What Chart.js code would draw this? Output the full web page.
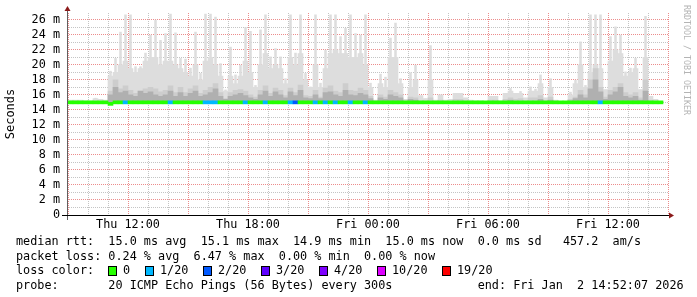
<!DOCTYPE html>
<html>
<head>
<meta charset="utf-8">
<script src="https://cdn.jsdelivr.net/npm/chart.js@4.4.1/dist/chart.umd.min.js"></script>
<style>
  html, body { margin: 0; padding: 0; background: #fff; }
  #wrap { position: relative; width: 697px; height: 297px; overflow: hidden;
          font-family: 'DejaVu Sans Mono', monospace; color: #000; }
  #chart { position: absolute; left: 0; top: 0; }
  .row, .lbl { position: absolute; font-size: 11.8px; line-height: 14px; white-space: pre; }
  .row { left: 16px; }
  .box { position: absolute; width: 7px; height: 8px; border: 1px solid #000; }
  #credit { position: absolute; left: 682px; top: 5px; writing-mode: vertical-rl;
            font-size: 8.3px; line-height: 9px; color: #b4b4b4; }
</style>
</head>
<body>
<div id="wrap">
  <canvas id="chart" width="697" height="297"></canvas>
  <div id="credit">RRDTOOL / TOBI OETIKER</div>
  <div class="row" style="top:234px">median rtt:  15.0 ms avg  15.1 ms max  14.9 ms min  15.0 ms now  0.0 ms sd   457.2  am/s</div>
  <div class="row" style="top:248.5px">packet loss: 0.24 % avg  6.47 % max  0.00 % min  0.00 % now</div>
  <div class="row" style="top:263px">loss color:</div>
  <div class="row" style="top:277.5px">probe:       20 ICMP Echo Pings (56 Bytes) every 300s            end: Fri Jan  2 14:52:07 2026</div>
</div>
<script>
// --- data: 15 minute bins, values in ms ---
const times = [
  'Thu 09:00','Thu 09:15','Thu 09:30','Thu 09:45','Thu 10:00','Thu 10:15','Thu 10:30','Thu 10:45',
  'Thu 11:00','Thu 11:15','Thu 11:30','Thu 11:45','Thu 12:00','Thu 12:15','Thu 12:30','Thu 12:45',
  'Thu 13:00','Thu 13:15','Thu 13:30','Thu 13:45','Thu 14:00','Thu 14:15','Thu 14:30','Thu 14:45',
  'Thu 15:00','Thu 15:15','Thu 15:30','Thu 15:45','Thu 16:00','Thu 16:15','Thu 16:30','Thu 16:45',
  'Thu 17:00','Thu 17:15','Thu 17:30','Thu 17:45','Thu 18:00','Thu 18:15','Thu 18:30','Thu 18:45',
  'Thu 19:00','Thu 19:15','Thu 19:30','Thu 19:45','Thu 20:00','Thu 20:15','Thu 20:30','Thu 20:45',
  'Thu 21:00','Thu 21:15','Thu 21:30','Thu 21:45','Thu 22:00','Thu 22:15','Thu 22:30','Thu 22:45',
  'Thu 23:00','Thu 23:15','Thu 23:30','Thu 23:45','Fri 00:00','Fri 00:15','Fri 00:30','Fri 00:45',
  'Fri 01:00','Fri 01:15','Fri 01:30','Fri 01:45','Fri 02:00','Fri 02:15','Fri 02:30','Fri 02:45',
  'Fri 03:00','Fri 03:15','Fri 03:30','Fri 03:45','Fri 04:00','Fri 04:15','Fri 04:30','Fri 04:45',
  'Fri 05:00','Fri 05:15','Fri 05:30','Fri 05:45','Fri 06:00','Fri 06:15','Fri 06:30','Fri 06:45',
  'Fri 07:00','Fri 07:15','Fri 07:30','Fri 07:45','Fri 08:00','Fri 08:15','Fri 08:30','Fri 08:45',
  'Fri 09:00','Fri 09:15','Fri 09:30','Fri 09:45','Fri 10:00','Fri 10:15','Fri 10:30','Fri 10:45',
  'Fri 11:00','Fri 11:15','Fri 11:30','Fri 11:45','Fri 12:00','Fri 12:15','Fri 12:30','Fri 12:45',
  'Fri 13:00','Fri 13:15','Fri 13:30','Fri 13:45','Fri 14:00','Fri 14:15','Fri 14:30'
];

// smoke: highest ping per bin (thin peaks), bulk of the slow pings (body),
// inner band (mid) and core band (dark)
const smokeMax = [
  15.3, 15.3, 15.3, 15.2, 15.2, 15.6, 15.4, 15.3, 19.2, 20.9,
  24.4, 26.7, 26.7, 19.8, 19.8, 21.6, 24.0, 26.0, 23.3, 24.2,
  26.8, 24.3, 20.9, 20.8, 19.6, 24.4, 18.9, 26.8, 26.8, 26.4,
  20.2, 16.7, 22.4, 18.7, 20.0, 25.0, 24.5, 17.3, 24.7, 26.7,
  21.1, 22.2, 21.1, 18.2, 26.7, 21.6, 26.7, 18.9, 17.1, 26.7,
  17.6, 22.0, 26.7, 26.7, 23.8, 24.9, 26.7, 24.2, 24.0, 26.7,
  17.6, 15.3, 18.8, 18.4, 23.6, 25.6, 18.2, 15.4, 19.0, 20.0,
  15.9, 15.5, 22.6, 15.3, 16.0, 15.3, 15.4, 16.2, 16.2, 15.6,
  15.3, 15.2, 15.2, 15.1, 15.8, 15.8, 15.2, 16.2, 16.9, 16.2,
  16.5, 15.6, 17.1, 16.8, 18.7, 15.6, 18.2, 15.3, 15.1, 15.1,
  16.4, 18.0, 23.1, 17.3, 26.7, 26.7, 26.7, 16.7, 23.8, 25.1,
  24.0, 19.1, 19.6, 20.9, 16.7, 26.5, 15.8, 15.4, 15.1
];
const smokeBody = [
  15.3, 15.3, 15.3, 15.2, 15.2, 15.5, 15.4, 15.3, 18.5, 19.0,
  20.0, 20.5, 19.5, 19.0, 19.5, 20.5, 21.0, 21.0, 20.0, 20.5,
  20.5, 20.0, 19.5, 19.0, 18.5, 20.0, 18.0, 20.5, 21.0, 20.0,
  18.5, 16.5, 18.5, 17.5, 18.5, 20.5, 19.0, 17.0, 20.0, 21.5,
  19.5, 20.0, 19.5, 17.5, 21.0, 20.0, 21.5, 18.0, 17.0, 20.0,
  17.0, 19.5, 21.5, 22.0, 21.5, 21.5, 21.0, 21.0, 21.5, 20.0,
  17.0, 15.3, 17.5, 17.0, 21.0, 21.0, 17.5, 15.4, 17.0, 18.0,
  15.9, 15.5, 18.0, 15.3, 16.0, 15.3, 15.4, 16.2, 16.2, 15.6,
  15.3, 15.2, 15.2, 15.1, 15.8, 15.8, 15.2, 16.2, 16.5, 16.2,
  16.2, 15.6, 16.5, 16.5, 17.5, 15.6, 17.0, 15.3, 15.1, 15.1,
  16.0, 17.5, 20.0, 17.0, 19.0, 20.0, 19.5, 16.7, 20.5, 22.0,
  21.5, 18.5, 19.0, 19.5, 16.7, 21.0, 15.8, 15.4, 15.1
];
const smokeMid = [
  15.1, 15.1, 15.1, 15.1, 15.1, 15.1, 15.1, 15.1, 16.5, 18.0,
  16.8, 17.2, 16.6, 16.2, 16.5, 16.8, 17.0, 16.8, 16.4, 16.6,
  17.2, 16.3, 17.0, 16.3, 16.8, 17.2, 16.2, 16.6, 17.0, 17.5,
  16.3, 15.5, 16.3, 16.6, 16.7, 16.5, 16.0, 15.7, 16.6, 17.2,
  16.2, 16.9, 16.6, 15.9, 16.9, 16.3, 17.3, 15.9, 15.8, 16.6,
  15.7, 16.9, 17.2, 16.5, 16.3, 17.5, 16.6, 16.5, 16.9, 16.6,
  15.8, 15.2, 16.0, 15.7, 16.6, 16.3, 16.0, 15.2, 15.7, 15.6,
  15.2, 15.2, 15.6, 15.1, 15.3, 15.1, 15.1, 15.4, 15.4, 15.2,
  15.1, 15.1, 15.1, 15.1, 15.3, 15.3, 15.1, 15.4, 15.6, 15.4,
  15.5, 15.2, 15.6, 15.6, 15.9, 15.2, 15.7, 15.1, 15.1, 15.1,
  15.4, 15.7, 16.6, 16.0, 18.0, 19.5, 17.0, 15.7, 16.6, 17.0,
  17.5, 16.3, 16.0, 16.3, 15.6, 18.0, 15.3, 15.1, 15.1
];
const smokeDark = [
  15.0, 15.0, 15.0, 15.0, 15.0, 15.0, 15.0, 15.0, 16.0, 17.0,
  16.3, 16.5, 16.0, 15.8, 16.5, 16.2, 16.4, 16.0, 15.8, 16.0,
  16.5, 15.8, 16.3, 15.8, 16.2, 16.5, 15.8, 16.0, 16.3, 16.8,
  15.8, 15.4, 15.8, 16.0, 16.2, 15.9, 15.6, 15.4, 16.0, 16.5,
  15.8, 16.4, 16.0, 15.6, 16.4, 15.9, 16.6, 15.6, 15.5, 16.0,
  15.5, 16.3, 16.4, 16.0, 15.8, 16.6, 16.0, 15.9, 16.2, 16.0,
  15.5, 15.0, 15.6, 15.4, 16.0, 15.8, 15.6, 15.0, 15.4, 15.3,
  15.0, 15.0, 15.0, 15.0, 15.0, 15.0, 15.0, 15.0, 15.0, 15.0,
  15.0, 15.0, 15.0, 15.0, 15.0, 15.0, 15.0, 15.0, 15.3, 15.0,
  15.0, 15.0, 15.0, 15.0, 15.4, 15.0, 15.3, 15.0, 15.0, 15.0,
  15.2, 15.5, 16.0, 15.6, 16.8, 18.0, 16.4, 15.4, 16.0, 16.4,
  17.0, 15.8, 15.6, 15.8, 15.3, 16.5, 15.0, 15.0, 15.0
];
const median = [
  15.0, 15.0, 15.0, 15.0, 15.0, 15.0, 15.0, 15.0, 14.8, 15.0,
  15.0, 15.0, 15.0, 15.0, 15.0, 15.0, 15.0, 15.0, 15.0, 15.0,
  15.0, 15.0, 15.0, 15.0, 15.0, 15.0, 15.0, 15.0, 15.0, 15.0,
  15.0, 15.0, 15.0, 15.0, 15.0, 15.0, 15.0, 15.0, 15.0, 15.0,
  15.0, 15.0, 15.0, 15.0, 15.0, 15.0, 15.0, 15.0, 15.0, 15.0,
  15.0, 15.0, 15.0, 15.0, 15.0, 15.0, 15.0, 15.0, 15.0, 15.0,
  15.0, 15.0, 15.0, 15.0, 15.0, 15.0, 15.0, 15.0, 15.0, 15.0,
  15.0, 15.0, 15.0, 15.0, 15.0, 15.0, 15.0, 15.0, 15.0, 15.0,
  15.0, 15.0, 15.0, 15.0, 15.0, 15.0, 15.0, 15.0, 15.0, 15.0,
  15.0, 15.0, 15.0, 15.0, 15.0, 15.0, 15.0, 15.0, 15.0, 15.0,
  15.0, 15.0, 15.0, 15.0, 15.0, 15.0, 15.0, 15.0, 15.0, 15.0,
  15.0, 15.0, 15.0, 15.0, 15.0, 15.0, 15.0, 15.0, 15.0
];
// lost pings out of 20 per bin
const loss = [
  0, 0, 0, 0, 0, 0, 0, 0, 0, 0,
  0, 1, 0, 0, 0, 0, 0, 0, 0, 0,
  1, 0, 0, 0, 0, 0, 0, 1, 1, 1,
  0, 0, 0, 0, 0, 1, 0, 0, 0, 1,
  0, 0, 0, 0, 1, 2, 0, 0, 0, 1,
  0, 1, 0, 1, 0, 0, 1, 0, 0, 1,
  0, 0, 0, 0, 0, 0, 0, 0, 0, 0,
  0, 0, 0, 0, 0, 0, 0, 0, 0, 0,
  0, 0, 0, 0, 0, 0, 0, 0, 0, 0,
  0, 0, 0, 0, 0, 0, 0, 0, 0, 0,
  0, 0, 0, 0, 0, 0, 1, 0, 0, 0,
  0, 0, 0, 0, 0, 0, 0, 0, 0
];

const lossLabels = ['0', '1/20', '2/20', '3/20', '4/20', '10/20', '19/20'];
const lossSteps  = [0, 1, 2, 3, 4, 10, 19];
const lossColors = ['#26ff00', '#00b8ff', '#0059ff', '#5e00ff', '#7e00ff', '#dd00ff', '#ff0000'];
const tickLabels = ['Thu 12:00', 'Thu 18:00', 'Fri 00:00', 'Fri 06:00', 'Fri 12:00'];

// --- helpers ---
const toMin = s => (s.startsWith('Fri') ? 1440 : 0) + (+s.slice(4, 6)) * 60 + (+s.slice(7, 9));
const binX = t => toMin(t) + 7.5;
const colorFor = n => {
  let c = lossColors[0];
  lossSteps.forEach((s, i) => { if (n >= s) c = lossColors[i]; });
  return c;
};
const labelAt = {};
tickLabels.forEach(l => { labelAt[toMin(l)] = l; });

const MONO = 'DejaVu Sans Mono';
const RED_GRID = '#ec8c8c';
const GRAY_GRID = '#c4c4c4';
const SMOKE = '#dddddd';

// legend boxes in row 3
const legendX = [108, 145, 203, 261, 319, 377, 442];
const wrap = document.getElementById('wrap');
lossLabels.forEach((l, i) => {
  const b = document.createElement('div');
  b.className = 'box';
  b.style.left = legendX[i] + 'px';
  b.style.top = '265.5px';
  b.style.background = lossColors[i];
  wrap.appendChild(b);
  const t = document.createElement('div');
  t.className = 'lbl';
  t.style.left = (legendX[i] + 15) + 'px';
  t.style.top = '263px';
  t.textContent = l;
  wrap.appendChild(t);
});

// --- axes with arrows, rrdtool style ---
const axisDecor = {
  id: 'axisDecor',
  afterDraw(chart) {
    const { ctx, chartArea: a } = chart;
    const y0 = Math.round(chart.scales.y.getPixelForValue(0));
    ctx.save();
    ctx.lineWidth = 1;
    ctx.strokeStyle = '#606060';
    ctx.beginPath();
    ctx.moveTo(a.left + 0.5, a.top - 4);
    ctx.lineTo(a.left + 0.5, y0 + 5);
    ctx.stroke();
    ctx.strokeStyle = '#000';
    ctx.beginPath();
    ctx.moveTo(a.left - 5, y0 + 0.5);
    ctx.lineTo(a.right + 2, y0 + 0.5);
    ctx.stroke();
    ctx.fillStyle = '#8b1a1a';
    ctx.beginPath();
    ctx.moveTo(a.left - 2.5, a.top - 2);
    ctx.lineTo(a.left + 3.5, a.top - 2);
    ctx.lineTo(a.left + 0.5, a.top - 7);
    ctx.closePath();
    ctx.fill();
    ctx.beginPath();
    ctx.moveTo(a.right + 1, y0 - 2.5);
    ctx.lineTo(a.right + 1, y0 + 3.5);
    ctx.lineTo(a.right + 6, y0 + 0.5);
    ctx.closePath();
    ctx.fill();
    ctx.restore();
  }
};

const band = (lo, hi) => times.map((t, i) => ({ x: binX(t), y: [lo[i], hi[i]] }));
const base = times.map(() => 15);

new Chart(document.getElementById('chart'), {
  type: 'bar',
  data: {
    datasets: [
      { label: 'median', order: 0, backgroundColor: loss.map(colorFor),
        data: times.map((t, i) => ({ x: binX(t), y: [median[i] - 0.2, median[i] + 0.2] })) },
      { label: 'dark', order: 1, backgroundColor: '#b0b0b0', data: band(base, smokeDark) },
      { label: 'mid', order: 2, backgroundColor: '#cdcdcd', data: band(base, smokeMid) },
      { label: 'body', order: 3, backgroundColor: SMOKE, data: band(base, smokeBody) },
      { label: 'peaks', order: 4, backgroundColor: SMOKE, barPercentage: 0.5,
        data: band(base, smokeMax) }
    ]
  },
  options: {
    responsive: false,
    animation: false,
    events: [],
    layout: { padding: { left: 4, top: 13, right: 29, bottom: 65 } },
    datasets: { bar: { barPercentage: 1, categoryPercentage: 1, borderWidth: 0 } },
    plugins: { legend: { display: false }, tooltip: { enabled: false } },
    scales: {
      x: {
        type: 'linear', min: 537, max: 2340, stacked: true, offset: false, z: 1,
        afterBuildTicks: s => {
          const ticks = [];
          for (let v = 540; v <= 2340; v += 60) ticks.push({ value: v });
          s.ticks = ticks;
        },
        afterFit: s => { s.height = 17; s.paddingLeft = 0; s.paddingRight = 0; },
        ticks: {
          autoSkip: false, maxRotation: 0, padding: 3, color: '#000',
          font: { family: MONO, size: 11.8 },
          callback: v => labelAt[v] || ''
        },
        grid: {
          offset: false, drawTicks: false,
          color: c => (c.tick && c.tick.value % 180 === 0) ? RED_GRID : GRAY_GRID
        },
        border: { display: false, dash: [1, 1] }
      },
      y: {
        min: 0, max: 26.9, z: 1,
        afterBuildTicks: s => {
          const ticks = [];
          for (let v = 0; v <= 26; v++) ticks.push({ value: v });
          s.ticks = ticks;
        },
        afterFit: s => { s.width = 63; s.paddingTop = 0; s.paddingBottom = 0; },
        ticks: {
          autoSkip: false, padding: 7, color: '#000', font: { family: MONO, size: 11.8 },
          callback: v => (v % 2 ? '' : (v === 0 ? '0' : v + ' m'))
        },
        grid: {
          drawTicks: false,
          color: c => (c.tick && c.tick.value % 2 === 0 && c.tick.value > 0) ? RED_GRID : GRAY_GRID
        },
        border: { display: false, dash: [1, 1] },
        title: { display: true, text: 'Seconds', color: '#000', padding: 0,
                 font: { family: MONO, size: 12 } }
      }
    }
  },
  plugins: [axisDecor]
});
</script>
</body>
</html>
